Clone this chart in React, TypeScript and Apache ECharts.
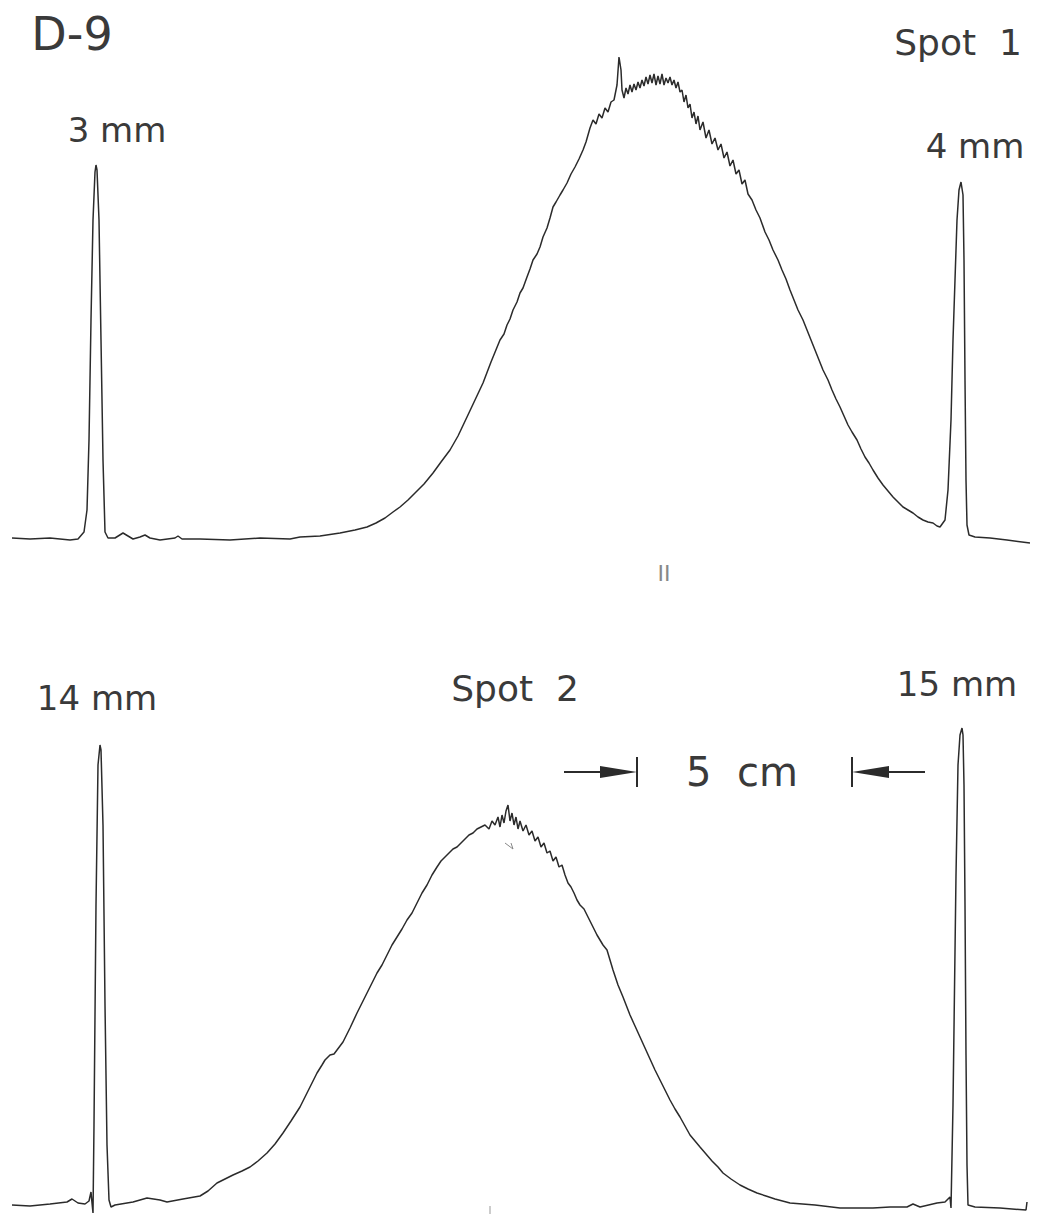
import React, { useEffect, useRef } from "react";
import * as echarts from "echarts";

// Densitometer traces: [position along strip, recorded height above baseline]
const spot1Trace: number[][] = [
  [12, 2], [30, 1], [50, 2], [70, 0], [78, 1], [84, 8], [87, 30], [89, 100], [91, 220], [93, 320], [95, 368], [96, 375],
  [97, 370], [99, 320], [101, 200], [103, 80], [105, 8], [108, 2], [115, 2], [123, 7], [128, 4], [133, 1], [140, 3],
  [145, 5], [150, 2], [160, 0], [175, 2], [178, 4], [182, 1], [200, 1], [230, 0], [260, 2], [290, 1], [300, 3],
  [320, 4], [340, 7], [355, 10], [367, 13], [376, 17], [385, 22], [393, 28], [400, 33], [408, 40], [415, 47], [424, 56],
  [433, 67], [441, 78], [450, 90], [458, 104], [467, 123], [475, 140], [483, 157], [491, 178], [500, 200], [504, 206],
  [507, 215], [510, 221], [513, 230], [517, 238], [520, 247], [523, 252], [527, 263], [530, 271], [533, 280], [537, 286],
  [540, 293], [543, 303], [547, 312], [550, 322], [553, 333], [556, 338], [560, 345], [563, 350], [567, 357], [571, 366],
  [575, 373], [579, 381], [583, 390], [586, 398], [590, 412], [593, 420], [596, 416], [599, 426], [602, 422], [605, 432],
  [608, 428], [611, 438], [614, 440], [617, 455], [619, 483], [621, 470], [622, 450], [624, 442], [626, 452], [628, 446],
  [630, 455], [632, 448], [634, 456], [636, 450], [638, 458], [640, 452], [642, 460], [644, 454], [646, 463], [648, 456],
  [650, 465], [652, 457], [654, 466], [656, 455], [658, 464], [660, 456], [662, 466], [664, 455], [666, 462], [668, 457],
  [670, 463], [672, 455], [674, 460], [676, 452], [678, 458], [680, 448], [682, 450], [684, 438], [686, 445], [688, 432],
  [690, 436], [692, 422], [694, 428], [696, 416], [698, 424], [700, 410], [703, 418], [706, 402], [709, 410], [712, 396],
  [715, 402], [718, 390], [721, 396], [724, 382], [727, 388], [730, 374], [733, 380], [736, 366], [739, 370], [742, 356],
  [745, 360], [748, 346], [752, 340], [756, 330], [760, 322], [765, 308], [769, 300], [773, 290], [778, 280], [782, 270],
  [786, 261], [790, 250], [794, 240], [798, 230], [803, 220], [807, 210], [811, 200], [815, 190], [819, 180], [823, 170],
  [828, 160], [832, 150], [836, 141], [840, 133], [844, 124], [848, 115], [852, 108], [857, 100], [861, 91], [865, 83],
  [869, 77], [873, 70], [878, 62], [883, 55], [888, 49], [893, 43], [898, 38], [903, 33], [908, 30], [913, 27], [918, 23],
  [923, 20], [928, 18], [933, 17], [937, 14], [940, 13], [945, 20], [948, 50], [951, 120], [953, 200], [955, 260],
  [957, 320], [959, 350], [961, 358], [963, 345], [964, 280], [965, 160], [966, 60], [967, 15], [969, 5], [975, 3],
  [990, 2], [1007, 0], [1030, -3],
];

const spot2Trace: number[][] = [
  [12, 0], [30, -1], [50, 1], [67, 3], [72, 6], [78, 2], [85, 1], [89, 4], [91, 13], [92, 2], [93, -8], [94, 80],
  [96, 300], [98, 440], [100, 460], [101, 455], [103, 380], [105, 200], [107, 60], [109, 5], [111, -2], [115, 0],
  [133, 3], [147, 7], [160, 5], [167, 3], [183, 6], [200, 9], [208, 14], [217, 22], [225, 26], [233, 30], [242, 34],
  [250, 38], [258, 44], [267, 52], [275, 61], [283, 72], [291, 84], [300, 98], [308, 114], [317, 132], [322, 140],
  [325, 145], [330, 150], [334, 151], [337, 155], [343, 163], [350, 177], [357, 192], [362, 202], [367, 212], [372, 222],
  [377, 232], [382, 240], [387, 250], [392, 260], [397, 268], [402, 276], [407, 285], [412, 292], [417, 302], [422, 312],
  [427, 320], [432, 330], [437, 338], [441, 344], [445, 348], [449, 352], [453, 356], [457, 358], [461, 362], [465, 366],
  [469, 370], [473, 372], [477, 376], [481, 378], [485, 380], [489, 376], [492, 384], [495, 380], [498, 388], [500, 378],
  [502, 390], [504, 382], [506, 394], [508, 400], [510, 384], [512, 392], [514, 380], [516, 388], [518, 376], [520, 384],
  [523, 374], [526, 380], [529, 370], [532, 374], [535, 364], [538, 368], [541, 358], [544, 362], [547, 352], [550, 354],
  [553, 344], [556, 348], [559, 338], [562, 340], [565, 330], [568, 322], [571, 318], [574, 312], [577, 305], [580, 300],
  [584, 296], [588, 288], [592, 280], [597, 270], [603, 260], [607, 255], [613, 235], [618, 220], [623, 208], [630, 190],
  [635, 179], [640, 168], [645, 157], [650, 146], [655, 135], [660, 125], [665, 115], [670, 105], [675, 96], [680, 88],
  [685, 79], [690, 70], [695, 64], [700, 58], [706, 51], [712, 44], [718, 38], [723, 32], [731, 26], [740, 20],
  [748, 16], [757, 12], [766, 9], [775, 6], [790, 2], [815, 0], [840, -3], [873, -3], [890, -2], [907, -2], [913, 1],
  [920, -2], [937, 2], [945, 3], [950, 8], [951, -3], [953, 100], [956, 330], [958, 440], [960, 470], [962, 477],
  [963, 470], [964, 420], [965, 300], [966, 150], [967, 40], [968, 0], [975, -2], [1000, -3], [1026, -5], [1027, 3],
];

const plotLabel = "D-9";
const spotLabels = ["Spot  1", "Spot  2"];
const markerLabels = ["3 mm", "4 mm", "14 mm", "15 mm"];
const scaleLabel = "5  cm";

const FONT = "'DejaVu Sans', 'Liberation Sans', sans-serif";
const INK = "#2b2b2b";

function txt(text: string, x: number, y: number, size: number) {
  return {
    type: "text",
    x,
    y,
    style: {
      text,
      fontSize: size,
      fontFamily: FONT,
      fill: "#3a3a3a",
      textAlign: "center",
      textVerticalAlign: "middle",
    },
  };
}

export default function App() {
  const ref = useRef<HTMLDivElement>(null);
  useEffect(() => {
    if (!ref.current) return;
    const chart = echarts.init(ref.current, null, { renderer: "svg" });
    const hiddenX = (gridIndex: number) => ({
      type: "value",
      gridIndex,
      min: 0,
      max: 1043,
      show: false,
      splitLine: { show: false },
    });
    const option: any = {
      animation: false,
      backgroundColor: "#ffffff",
      grid: [
        { left: 0, right: 0, top: 0, height: 560 },
        { left: 0, right: 0, top: 600, height: 618 },
      ],
      xAxis: [hiddenX(0), hiddenX(1)],
      yAxis: [
        { type: "value", gridIndex: 0, min: -20, max: 540, show: false, splitLine: { show: false } },
        { type: "value", gridIndex: 1, min: -13, max: 605, show: false, splitLine: { show: false } },
      ],
      series: [
        {
          type: "line",
          name: "Spot 1",
          xAxisIndex: 0,
          yAxisIndex: 0,
          data: spot1Trace,
          showSymbol: false,
          smooth: false,
          lineStyle: { color: INK, width: 1.5 },
        },
        {
          type: "line",
          name: "Spot 2",
          xAxisIndex: 1,
          yAxisIndex: 1,
          data: spot2Trace,
          showSymbol: false,
          smooth: false,
          lineStyle: { color: INK, width: 1.5 },
        },
      ],
      graphic: [
        txt(plotLabel, 72, 34, 46),
        txt(spotLabels[0], 958, 42, 36),
        txt(markerLabels[0], 117, 130, 34),
        txt(markerLabels[1], 975, 146, 34),
        txt(markerLabels[2], 97, 698, 34),
        txt(spotLabels[1], 515, 688, 36),
        txt(markerLabels[3], 957, 684, 34),
        txt(scaleLabel, 742, 772, 40),
        { type: "text", x: 664, y: 573, style: { text: "II", fontSize: 22, fontFamily: FONT, fill: "#888", textAlign: "center", textVerticalAlign: "middle" } },
        // 5 cm scale arrows
        { type: "line", shape: { x1: 564, y1: 772, x2: 605, y2: 772 }, style: { stroke: INK, lineWidth: 2 } },
        { type: "polygon", shape: { points: [[600, 766], [637, 772], [600, 778]] }, style: { fill: INK } },
        { type: "line", shape: { x1: 637, y1: 757, x2: 637, y2: 787 }, style: { stroke: INK, lineWidth: 2 } },
        { type: "line", shape: { x1: 852, y1: 757, x2: 852, y2: 787 }, style: { stroke: INK, lineWidth: 2 } },
        { type: "polygon", shape: { points: [[889, 766], [852, 772], [889, 778]] }, style: { fill: INK } },
        { type: "line", shape: { x1: 884, y1: 772, x2: 925, y2: 772 }, style: { stroke: INK, lineWidth: 2 } },
        // small pencil marks
        { type: "polyline", shape: { points: [[505, 843], [513, 849], [511, 843]] }, style: { stroke: "#888", lineWidth: 1, fill: null } },
        { type: "line", shape: { x1: 490, y1: 1206, x2: 490, y2: 1214 }, style: { stroke: "#999", lineWidth: 1 } },
      ],
    };
    chart.setOption(option);
    return () => chart.dispose();
  }, []);
  return (
    <div
      ref={ref}
      style={{ position: "absolute", left: 0, top: 0, width: 1043, height: 1218 }}
    />
  );
}
